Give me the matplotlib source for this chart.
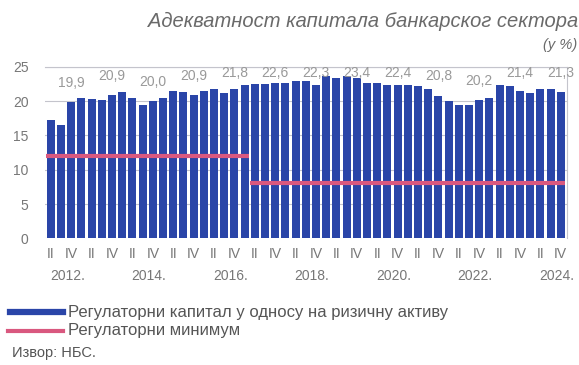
import matplotlib
matplotlib.use("Agg")
import matplotlib.pyplot as plt
import matplotlib.transforms as mtransforms
import numpy as np

plt.rcParams['font.family'] = ['Liberation Sans', 'DejaVu Sans']

# quarterly data, Q2 2012 - Q4 2024
capital_ratio = [
    17.3, 16.5, 19.9,
    20.4, 20.3, 20.1, 20.9,
    21.3, 20.5, 19.5, 20.0,
    20.4, 21.5, 21.3, 20.9,
    21.5, 21.7, 21.2, 21.8,
    22.4, 22.5, 22.5, 22.6,
    22.7, 23.0, 22.9, 22.3,
    23.7, 23.3, 23.6, 23.4,
    22.7, 22.6, 22.4, 22.4,
    22.3, 22.2, 21.7, 20.8,
    20.0, 19.5, 19.5, 20.2,
    20.5, 22.3, 22.2, 21.4,
    21.2, 21.8, 21.8, 21.3,
]
reg_minimum = [12] * 20 + [8] * 31
years = list(range(2012, 2025))
year_labels = ['2012.', '2014.', '2016.', '2018.', '2020.', '2022.', '2024.']

blue = '#2a45a8'
pink = '#d9587f'
grey = '#777777'

fig = plt.figure(figsize=(5.79, 3.65), dpi=100)
ax = fig.add_axes([0.078, 0.347, 0.901, 0.470])

x = np.arange(len(capital_ratio))
ax.bar(x, capital_ratio, width=0.78, color=blue, zorder=2)

# regulatory minimum, one segment per level
mins = np.array(reg_minimum)
start = 0
for i in range(1, len(mins) + 1):
    if i == len(mins) or mins[i] != mins[start]:
        ax.hlines(mins[start], start - 0.45, i - 1 + 0.45, color=pink,
                  linewidth=3, zorder=3)
        start = i

# year-end values (Q4 bars)
for i, v in enumerate(capital_ratio):
    if i % 4 == 2:
        ax.text(i, min(v + 2.8, 24.1), f'{v:.1f}'.replace('.', ','),
                ha='center', va='center', fontsize=10, color='#999999',
                zorder=4)

ax.set_xlim(-0.56, 50.6)
ax.set_ylim(0, 25)
ax.set_yticks([0, 5, 10, 15, 20, 25])
ax.tick_params(axis='y', length=0, labelsize=10, labelcolor=grey, pad=12)
ax.grid(axis='y', color='#c4c4cc', linewidth=0.8, zorder=1)
ax.set_axisbelow(True)

ticks = []
tlabels = []
for k in range(len(years)):
    ticks += [4 * k, 4 * k + 2]
    tlabels += ['II', 'IV']
ax.set_xticks(ticks)
ax.set_xticklabels(tlabels)
ax.tick_params(axis='x', length=0, labelsize=10, labelcolor=grey, pad=6)

trans = mtransforms.blended_transform_factory(ax.transData, ax.transAxes)
for j, lab in enumerate(year_labels):
    ax.text(1.6 + 8 * j, -0.22, lab, transform=trans, ha='center',
            va='center', fontsize=10, color=grey)

for side in ['left', 'bottom']:
    ax.spines[side].set_visible(False)
for side in ['top', 'right']:
    ax.spines[side].set_color('#c4c4cc')
    ax.spines[side].set_linewidth(0.8)

fig.text(0.998, 0.94, 'Адекватност капитала банкарског сектора',
         ha='right', va='center', fontsize=14.5, style='italic',
         color='#6a6a6a')
fig.text(0.997, 0.877, '(у %)', ha='right', va='center', fontsize=10.5,
         style='italic', color='#6a6a6a')

# legend drawn by hand under the chart
fig.add_artist(plt.Line2D([0.018, 0.108], [1 - 312 / 365] * 2,
                          color=blue, linewidth=4.5))
fig.text(0.117, 1 - 312 / 365, 'Регулаторни капитал у односу на ризичну активу',
         ha='left', va='center', fontsize=12, color='#555555')
fig.add_artist(plt.Line2D([0.014, 0.108], [1 - 331 / 365] * 2,
                          color=pink, linewidth=3))
fig.text(0.117, 1 - 331 / 365, 'Регулаторни минимум',
         ha='left', va='center', fontsize=12, color='#555555')
fig.text(0.02, 1 - 353 / 365, 'Извор: НБС.', ha='left', va='center',
         fontsize=10.5, color='#555555')

fig.savefig('out.png', dpi=100, facecolor='white')
